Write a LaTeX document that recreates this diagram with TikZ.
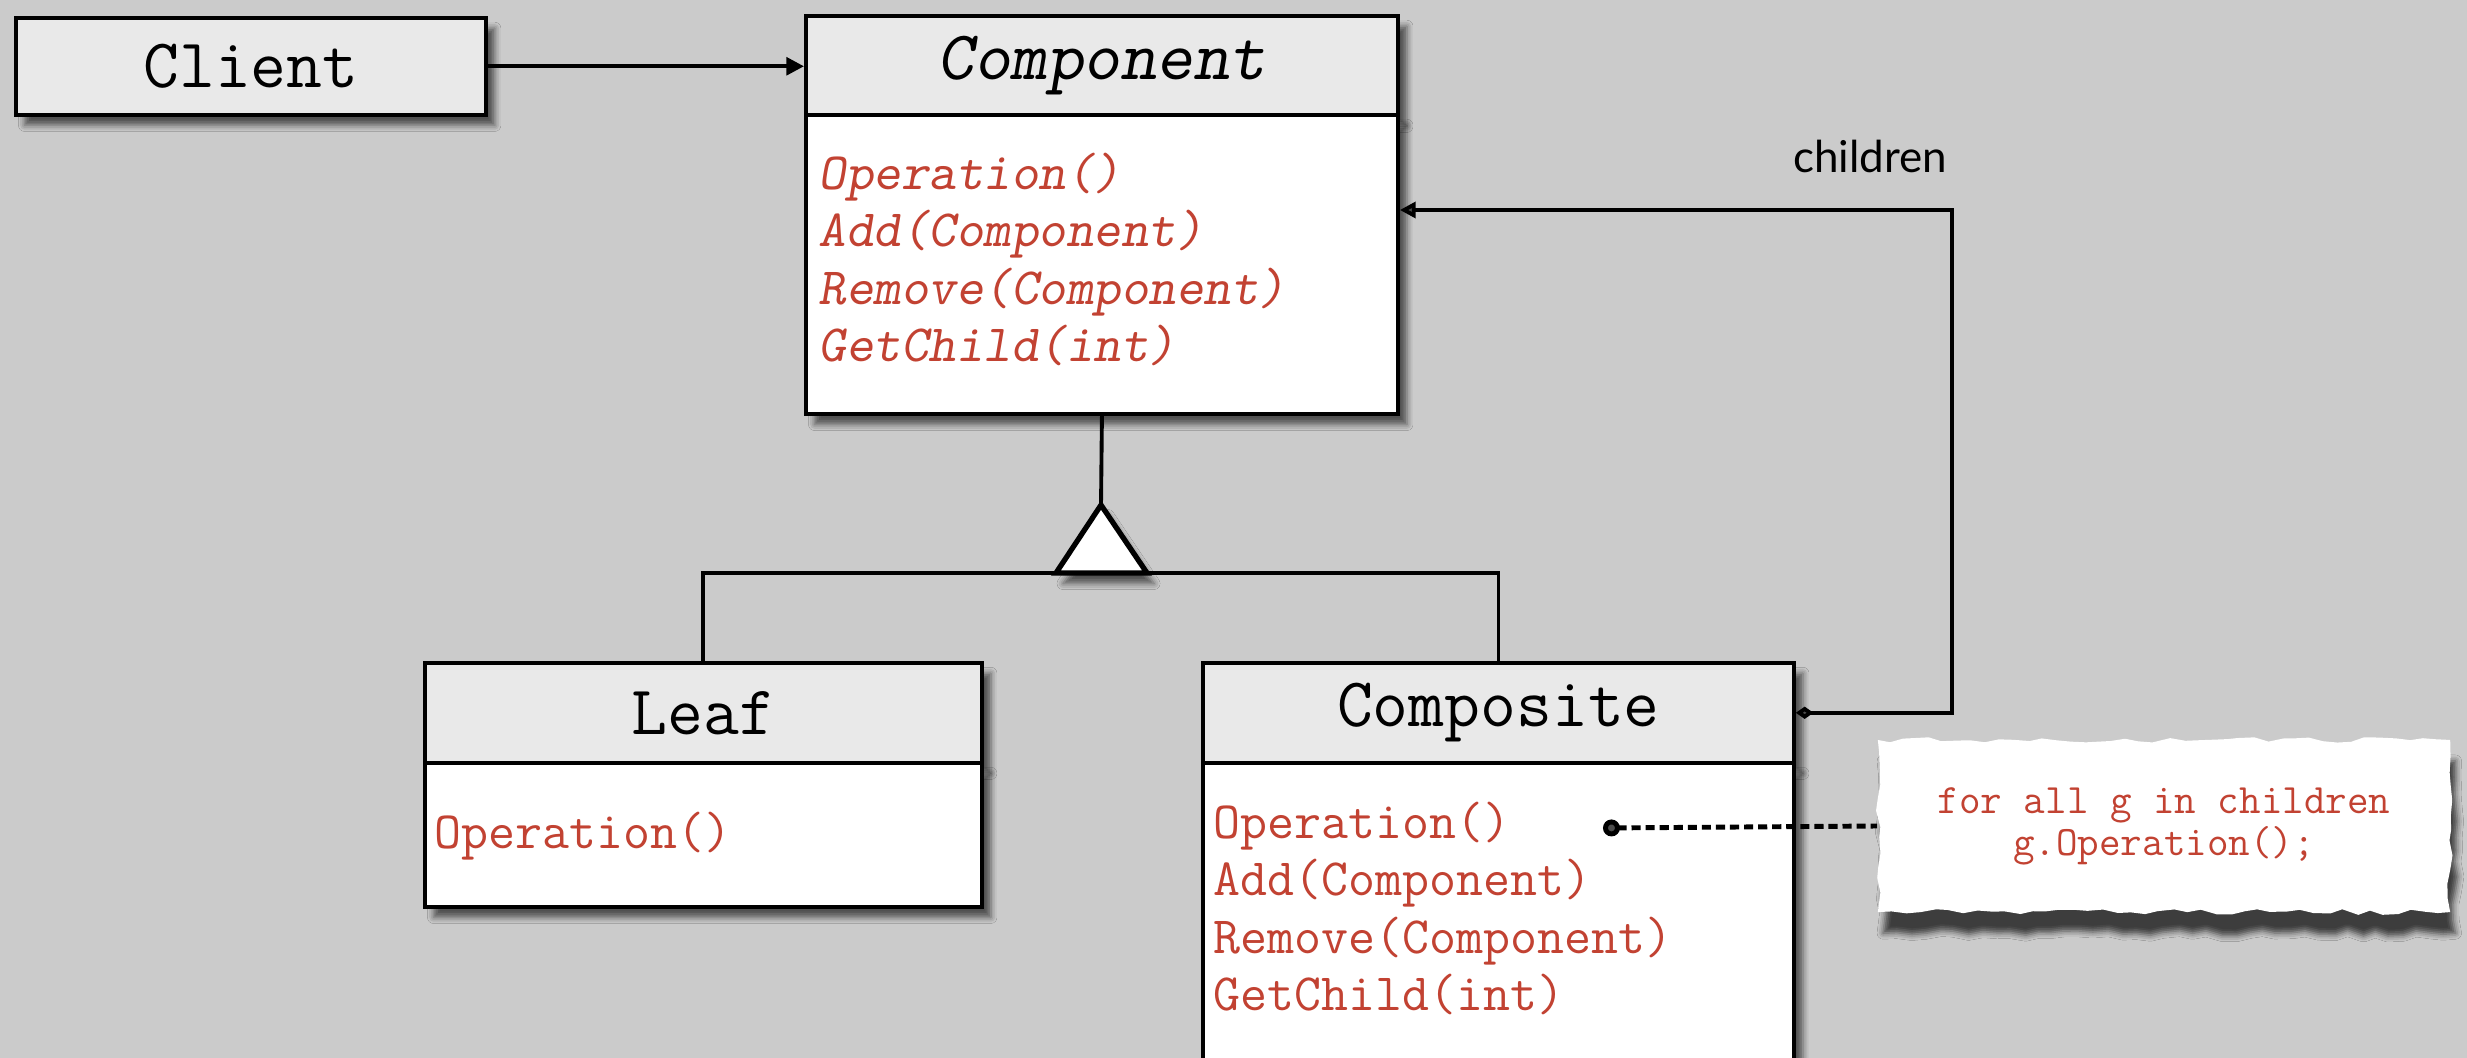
\documentclass[tikz,border=0pt]{standalone}
\usepackage{fontspec}
\newfontfamily\labelfont{Lato}
\usetikzlibrary{arrows.meta,shadows,shadows.blur,decorations.pathmorphing,positioning}
\definecolor{paper}{RGB}{203,203,203}
\definecolor{headgray}{RGB}{233,233,233}
\definecolor{methred}{RGB}{194,66,50}

\begin{document}
\begin{tikzpicture}[x=0.01cm, y=-0.01cm, >={Triangle[length=5pt, width=5pt]},
  box/.style={draw, line width=1pt, inner sep=0pt, blur shadow={shadow xshift=2.5pt, shadow yshift=-3pt, shadow opacity=60}},
  head/.style={box, fill=headgray, minimum height=1cm, font=\ttfamily\fontsize{19.8}{22}\selectfont},
  body/.style={box, fill=white},
  meth/.style={anchor=base west, inner sep=0pt, text=methred, font=\ttfamily\fontsize{14.9}{16}\selectfont},
  link/.style={line width=1.1pt},
  note/.style={fill=white, minimum width=5.72cm, minimum height=1.72cm, align=center, text=methred,
    font=\ttfamily\fontsize{11.9}{12}\selectfont, decorate, decoration={random steps, segment length=4pt, amplitude=0.8pt},
    blur shadow={shadow xshift=1.5pt, shadow yshift=-6pt, shadow opacity=70}}]
\pgfmathsetseed{7}
\clip (0,0) rectangle (2467,1058);
\fill [paper] (0,0) rectangle (2467,1058);

\node [head, anchor=north west, minimum width=4.70cm, minimum height=0.97cm] (client) at (14,16) {Client};

\node [head, anchor=north west, minimum width=5.92cm, font=\ttfamily\slshape\fontsize{19.8}{22}\selectfont] (compHead) at (804,14) {Component};
\node [body, anchor=north west, minimum width=5.92cm, minimum height=2.99cm] (compBody) at (804,113) {};
\node [meth, font=\ttfamily\slshape\fontsize{14.9}{16}\selectfont] (cOp) at (818,190) {Operation()};
\node [meth, font=\ttfamily\slshape\fontsize{14.9}{16}\selectfont] (cAdd) at (818,247) {Add(Component)};
\node [meth, font=\ttfamily\slshape\fontsize{14.9}{16}\selectfont] (cRem) at (818,305) {Remove(Component)};
\node [meth, font=\ttfamily\slshape\fontsize{14.9}{16}\selectfont] (cGet) at (818,362) {GetChild(int)};

\node [head, anchor=north west, minimum width=5.57cm] (leafHead) at (423,661) {Leaf};
\node [body, anchor=north west, minimum width=5.57cm, minimum height=1.44cm] (leafBody) at (423,761) {};
\node [meth] (lOp) at (434,848) {Operation()};

\node [head, anchor=north west, minimum width=5.91cm] (compoHead) at (1201,661) {Composite};
\node [body, anchor=north west, minimum width=5.91cm, minimum height=3.4cm] (compoBody) at (1201,761) {};
\node [meth] (kOp) at (1213,838) {Operation()};
\node [meth] (kAdd) at (1213,895) {Add(Component)};
\node [meth] (kRem) at (1213,953) {Remove(Component)};
\node [meth] (kGet) at (1213,1010) {GetChild(int)};

\node [note] (note) at (2164,826) {for all g in children\\g.Operation();};
\node [font=\labelfont\fontsize{12.5}{14}\selectfont, anchor=base] (childLbl) at (1870,173) {children};

\coordinate (apex) at (1101,505);
\coordinate (bus) at (1101,573);
\coordinate (turn) at (1952,210);
\coordinate (opDot) at (1603,828);

\draw [link, ->] (client.east) -- (client.east -| compHead.west);
\draw [link] (compBody.south) -- (apex);
\draw [link] (leafHead.north) |- (bus) -| (compoHead.north);
\draw [line width=1.5pt, fill=white, blur shadow={shadow xshift=2pt, shadow yshift=-3pt, shadow opacity=60}] (apex) -- ++(-45,68) -- ++(91,0) -- cycle;
\draw [link, {Diamond[length=5pt, width=3.5pt]}-{Triangle[length=4.5pt, width=4.5pt]}] (compoHead.east) -| (turn) -- (turn -| compBody.east);
\draw [line width=1.4pt, dash pattern=on 2.6pt off 1.4pt, {Circle[length=4.8pt]}-] (opDot) -- (note.west);

\end{tikzpicture}
\end{document}
